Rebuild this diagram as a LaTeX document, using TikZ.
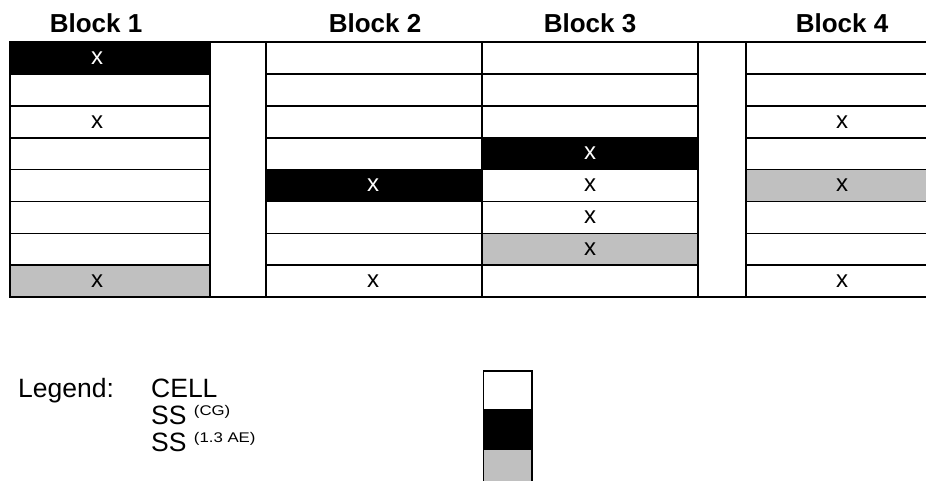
\documentclass[tikz,border=0pt]{standalone}
\usepackage{fontspec}
\setmainfont{Liberation Sans}
\definecolor{ssgray}{RGB}{192,192,192}
\begin{document}
\begin{tikzpicture}[x=1pt,y=-1pt,
  gridline/.style={draw=black,line width=1.7pt},
  cellbox/.style={gridline,minimum height=31.9pt,inner sep=0pt,outer sep=0pt,anchor=north west},
  mark x/.style={inner sep=0pt,font=\fontsize{24}{28}\selectfont},
  head/.style={anchor=base,inner sep=0pt,font=\fontsize{26}{30}\selectfont\bfseries},
  legtext/.style={anchor=base west,inner sep=0pt,font=\fontsize{26.5}{30}\selectfont},
  swatch/.style={gridline,minimum width=48.3pt,minimum height=39pt,inner sep=0pt,anchor=north west}]
\clip (0,0) rectangle (926,481);
\useasboundingbox (0,0) rectangle (926,481);

% spacer columns between the blocks
\node[cellbox,minimum width=56pt,minimum height=255.2pt] (gapA) at (210,42) {};
\node[cellbox,minimum width=48pt,minimum height=255.2pt] (gapB) at (698,42) {};

% the four blocks: left edge / width / fill of each row
\foreach \b/\xl/\w/\fills in {
    1/10/200/{black,white,white,white,white,white,white,ssgray},
    2/266/216/{white,white,white,white,black,white,white,white},
    3/482/216/{white,white,white,black,white,white,ssgray,white},
    4/746/194/{white,white,white,white,ssgray,white,white,white}}{
  \foreach \f [count=\r from 0] in \fills {
    \node[cellbox,fill=\f,minimum width=\w pt] (b\b r\r) at (\xl,{42+31.9*\r}) {};
  }
}

% block headings
\node[head] (h1) at (96,33) {Block 1};
\node[head] (h2) at (375,33) {Block 2};
\node[head] (h3) at (590,33) {Block 3};
\node[head] (h4) at (842,33) {Block 4};

% entries: block / text centre / row / text colour
\foreach \b/\cx/\r/\c in {
    1/97/0/white, 1/97/2/black, 1/97/7/black,
    2/373/4/white, 2/373/7/black,
    3/590/3/white, 3/590/4/black, 3/590/5/black, 3/590/6/black,
    4/842/2/black, 4/842/4/black, 4/842/7/black}{
  \node[mark x,text=\c] (x\b r\r) at (\cx,{42+31.9*(\r+0.5)}) {x};
}

% legend
\newcommand{\legsup}[1]{\raisebox{9pt}{\scalebox{1.2}[1]{\fontsize{14}{16}\selectfont #1}}}
\node[legtext] (leg) at (18,397) {Legend:};
\node[legtext] (lcell) at (151,397) {CELL};
\node[legtext] (lcg) at (151,424) {SS \legsup{(CG)}};
\node[legtext] (lae) at (151,451) {SS \legsup{(1.3 AE)}};

\node[swatch,fill=white] (sw1) at (482.7,370) {};
\node[swatch,fill=black] (sw2) at (482.7,408.5) {};
\node[swatch,fill=ssgray,minimum height=45pt] (sw3) at (482.7,448) {};
\end{tikzpicture}
\end{document}
